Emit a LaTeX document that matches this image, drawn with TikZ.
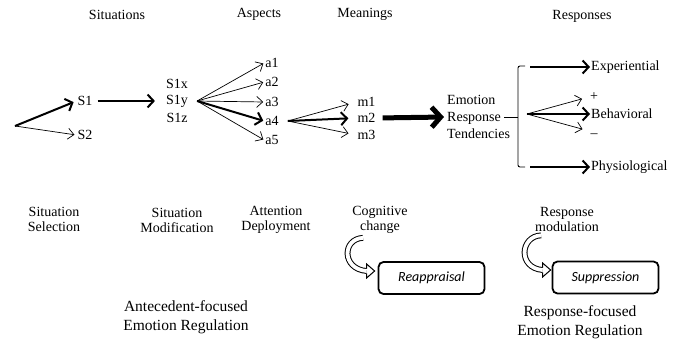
\documentclass[tikz,border=0pt]{standalone}
\usepackage{fontspec}
\setmainfont{Liberation Serif}
\newfontfamily\boxfont{Carlito}
\usetikzlibrary{arrows.meta}

\begin{document}
\begin{tikzpicture}[x=1pt, y=-1pt,
  lbl/.style={inner sep=1pt, font=\fontsize{14}{15}\selectfont, align=center},
  thinarr/.style={line width=0.7pt, -{Straight Barb[length=6pt,width=11pt]}},
  thickarr/.style={line width=2pt, -{Straight Barb[length=6pt,width=13pt]}},
  bigarr/.style={line width=5pt, -{Straight Barb[length=9pt,width=20pt]}},
  regbox/.style={draw, line width=1.8pt, rounded corners=5pt, minimum width=106pt, minimum height=32pt, font=\boxfont\itshape\fontsize{14}{16}\selectfont},
  band/.style={line width=1pt, double=white, double distance=3.8pt},
  hhead/.pic={\fill[white] (-8,-7) -- (0,0) -- (-8,7) -- cycle;
    \draw[line width=1pt, line join=miter] (-8,-2.4) -- (-8,-7) -- (0,0) -- (-8,7) -- (-8,2.4);}
]
\useasboundingbox (0,0) rectangle (682,343);

\node[lbl] (hsit) at (117,15) {Situations};
\node[lbl] (hasp) at (259,14) {Aspects};
\node[lbl] (hmean) at (365,14) {Meanings};
\node[lbl] (hresp) at (582,16) {Responses};

\coordinate (o) at (15,126);
\node[lbl] (s1) at (85,101) {S1};
\node[lbl] (s2) at (85,135) {S2};
\draw[thickarr, shorten >=3pt] (o) -- (s1.west);
\draw[thinarr, shorten >=2pt] (o) -- (s2.west);

\node[lbl] (s1x) at (177,84) {S1x};
\node[lbl] (s1y) at (177,101) {S1y};
\node[lbl] (s1z) at (177,118) {S1z};
\draw[thickarr, shorten <=4pt, shorten >=10pt] (s1.east) -- (s1y.west);

\node[lbl] (a1) at (272,63) {a1};
\node[lbl] (a2) at (272,82) {a2};
\node[lbl] (a3) at (272,102) {a3};
\node[lbl] (a4) at (272,121) {a4};
\node[lbl] (a5) at (272,140) {a5};
\coordinate (sf) at ([xshift=8pt]s1y.east);
\foreach \i in {1,2,3,5}
  \draw[thinarr, shorten >=1pt] (sf) -- (a\i.west);
\draw[thickarr, shorten >=1pt] (sf) -- (a4.west);

\node[lbl] (m1) at (366.5,102) {m1};
\node[lbl] (m2) at (366.5,118) {m2};
\node[lbl] (m3) at (366.5,135) {m3};
\coordinate (af) at ([xshift=8pt]a4.east);
\draw[thinarr, shorten >=8pt] (af) -- (m1.west);
\draw[thickarr, shorten >=8pt] (af) -- (m2.west);
\draw[thinarr, shorten >=8pt] (af) -- (m3.west);

\node[lbl, align=left, font=\fontsize{14}{17}\selectfont, inner sep=2pt, anchor=west] (ert) at (445,117) {Emotion\\Response\\Tendencies};
\draw[bigarr, shorten <=6pt, shorten >=1pt] (m2.east) -- (ert.west);

\coordinate (bm) at (518,117);
\draw[line width=0.9pt, rounded corners=2pt] (525,66) -- (518,66) -- (518,167) -- (525,167);
\draw[line width=0.9pt] ([xshift=-8pt]ert.east) -- (bm);

\coordinate (bt) at (530,67);
\coordinate (bb) at (530,167);
\coordinate (rf) at (527,114);
\node[lbl, anchor=west] (exper) at (590,67) {Experiential};
\node[lbl, anchor=west] (behav) at (590,114) {Behavioral};
\node[lbl] (plus) at (594,97) {+};
\node[lbl] (minus) at (594,136) {--};
\node[lbl, anchor=west] (phys) at (590,167) {Physiological};
\draw[thickarr] (bt) -- (exper.west);
\draw[thickarr] (rf) -- (behav.west);
\draw[thinarr, shorten >=7pt] (rf) -- (plus.west);
\draw[thinarr, shorten >=7pt] (rf) -- ([shift={(0,-5)}]minus.west);
\draw[thickarr] (bb) -- (phys.west);

\node[lbl] (ssel) at (54,219) {Situation\\Selection};
\node[lbl] (smod) at (177,220.5) {Situation\\Modification};
\node[lbl] (adep) at (276,219.5) {Attention\\Deployment};
\node[lbl] (cog) at (380,220) {Cognitive\\change};
\node[lbl] (rmod) at (567,219.5) {Response\\modulation};
\node[lbl, font=\fontsize{15.5}{19}\selectfont] (antreg) at (186,317.5) {Antecedent-focused\\Emotion Regulation};
\node[lbl, font=\fontsize{15.5}{19}\selectfont] (resreg) at (580,322) {Response-focused\\Emotion Regulation};

\node[regbox] (reap) at (431.5,278) {Reappraisal};
\node[regbox] (supp) at (605.5,277.5) {Suppression};

\draw[band] ([shift={(-17,3)}]cog.south) .. controls +(-21,1) and +(-25,-2) .. ([shift={(-11,-7)}]reap.west);
\pic at ([shift={(-3,-7)}]reap.west) {hhead};
\draw[band] ([shift={(-26,2.5)}]rmod.south) .. controls +(-21,1) and +(-25,-2) .. ([shift={(-9,-7.5)}]supp.west);
\pic at ([shift={(-1,-7.5)}]supp.west) {hhead};
\end{tikzpicture}
\end{document}
